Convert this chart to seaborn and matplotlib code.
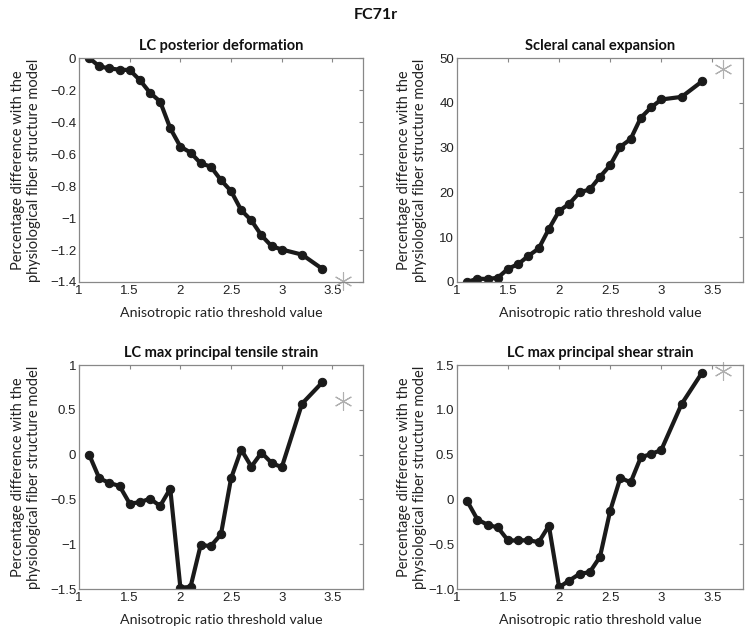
import numpy as np
import pandas as pd
import seaborn as sns
from matplotlib import pyplot as plt

# threshold values (3.1 and 3.3 were not run), star = reference model at 3.6
thresholds = [1.1, 1.2, 1.3, 1.4, 1.5, 1.6, 1.7, 1.8, 1.9, 2.0, 2.1,
              2.2, 2.3, 2.4, 2.5, 2.6, 2.7, 2.8, 2.9, 3.0, 3.2, 3.4]
star_x = 3.6

lc_posterior = [0.0, -0.052, -0.065, -0.073, -0.075, -0.138, -0.217, -0.272, -0.439, -0.554, -0.591,
                -0.658, -0.679, -0.763, -0.832, -0.951, -1.015, -1.109, -1.176, -1.197, -1.229, -1.318]
scleral_canal = [0.0, 0.74, 0.67, 0.96, 2.96, 4.0, 5.85, 7.48, 11.85, 15.85, 17.48,
                 20.0, 20.67, 23.48, 26.07, 30.2, 31.9, 36.67, 38.96, 40.74, 41.33, 44.8]
lc_tensile = [0.0, -0.264, -0.316, -0.35, -0.546, -0.532, -0.491, -0.573, -0.38, -1.485, -1.477,
              -1.01, -1.02, -0.89, -0.264, 0.056, -0.134, 0.022, -0.093, -0.141, 0.569, 0.807]
lc_shear = [-0.019, -0.224, -0.283, -0.313, -0.458, -0.458, -0.455, -0.477, -0.294, -0.98, -0.905,
            -0.831, -0.812, -0.641, -0.127, 0.242, 0.19, 0.470, 0.507, 0.551, 1.066, 1.416]
star_values = [-1.396, 47.6, 0.602, 1.438]

titles = ["LC posterior deformation", "Scleral canal expansion",
          "LC max principal tensile strain", "LC max principal shear strain"]

xticks = [1, 1.5, 2, 2.5, 3, 3.5]
xticklabels = ["1", "1.5", "2", "2.5", "3", "3.5"]
yticks = [
    [0, -0.2, -0.4, -0.6, -0.8, -1, -1.2, -1.4],
    [0, 10, 20, 30, 40, 50],
    [1, 0.5, 0, -0.5, -1, -1.5],
    [1.5, 1.0, 0.5, 0, -0.5, -1.0],
]
yticklabels = [
    ["0", "\u22120.2", "\u22120.4", "\u22120.6", "\u22120.8", "\u22121", "\u22121.2", "\u22121.4"],
    ["0", "10", "20", "30", "40", "50"],
    ["1", "0.5", "0", "\u22120.5", "\u22121", "\u22121.5"],
    ["1.5", "1.0", "0.5", "0", "\u22120.5", "\u22121.0"],
]
ylims = [(-1.4, 0), (0, 50), (-1.5, 1), (-1, 1.5)]

sns.set_theme(style="white")
plt.rcParams['font.family'] = ['Liberation Sans', 'DejaVu Sans']
LABEL_FONT = ["Lato", "DejaVu Sans"]

fig = plt.figure(figsize=(7.51, 6.32), dpi=100)
positions = [
    [0.1052, 0.5538, 0.378, 0.3544],
    [0.6085, 0.5538, 0.3808, 0.3544],
    [0.1052, 0.068, 0.378, 0.3544],
    [0.6085, 0.068, 0.3808, 0.3544],
]
ylabel_x = [-0.134, -0.105, -0.134, -0.105]
series = [lc_posterior, scleral_canal, lc_tensile, lc_shear]

for i in range(4):
    ax = fig.add_axes(positions[i])
    df = pd.DataFrame({"x": thresholds, "y": series[i]})
    sns.lineplot(data=df, x="x", y="y", ax=ax, color="#1a1a1a", linewidth=3,
                 marker="o", markersize=6, markeredgecolor="#1a1a1a")
    ax.plot([star_x], [star_values[i]], marker=(6, 2, 0), markersize=13,
            color="#b0b0b0", markeredgewidth=0.8, linestyle="none", clip_on=False)

    ax.set_xlim(1, 3.8)
    ax.set_ylim(*ylims[i])
    ax.set_xticks(xticks)
    ax.set_xticklabels(xticklabels)
    ax.set_yticks(yticks[i])
    ax.set_yticklabels(yticklabels[i])
    ax.tick_params(direction="in", top=True, right=True, length=3, width=0.8,
                   color="#888888", labelsize=9.5, pad=2, labelcolor="#222222")
    for sp in ax.spines.values():
        sp.set_color("#888888")
        sp.set_linewidth(0.9)

    ax.set_title(titles[i], family=LABEL_FONT, fontweight="bold",
                 fontsize=10.5, pad=6, color="#111111")
    ax.set_xlabel("Anisotropic ratio threshold value", family=LABEL_FONT,
                  fontsize=10.2, color="#222222", va="top")
    ax.xaxis.set_label_coords(0.5, -0.11)
    ax.set_ylabel("Percentage difference with the\nphysiological fiber structure model",
                  family=LABEL_FONT, fontsize=10.5, color="#222222", linespacing=1.15)
    ax.yaxis.set_label_coords(ylabel_x[i], 0.5)

fig.suptitle("FC71r", family=LABEL_FONT, fontweight="bold",
             fontsize=11.5, y=0.988, color="#111111")

fig.savefig("out.png", dpi=100)
